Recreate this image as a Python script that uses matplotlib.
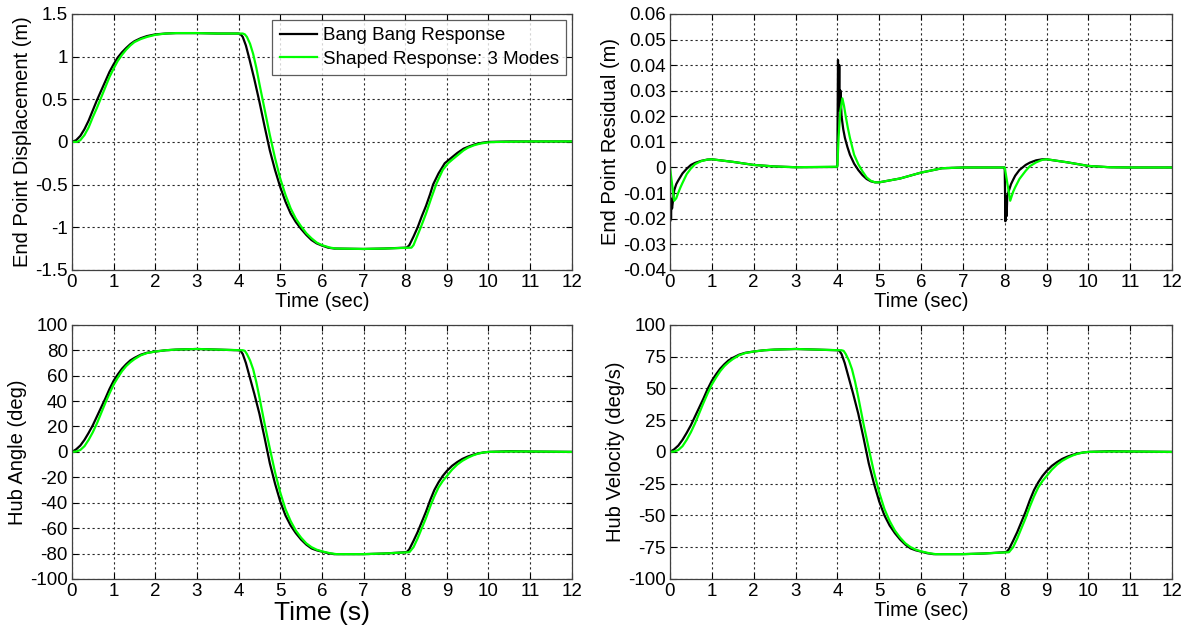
#! /usr/bin/env python3
# -*- coding: utf-8 -*-

## Respostas bang-bang x comando moldado (3 modos) - quatro graficos estilo MATLAB
import matplotlib
matplotlib.use('Agg')
import matplotlib.pyplot as plt

plt.rcParams['font.family'] = ['Liberation Sans', 'DejaVu Sans']
plt.rcParams['axes.unicode_minus'] = False

## ---- Dados ----
## deslocamento da ponta (m)
t_disp_bang = [0, 0.1, 0.2, 0.3, 0.4, 0.5, 0.6, 0.7, 0.8, 0.9, 1.0, 1.1, 1.2, 1.3, 1.4, 1.5, 1.65, 1.8,
               2.0, 2.25, 2.5, 3.0, 3.5, 4.0, 4.05, 4.1, 4.175, 4.25, 4.375, 4.5, 4.625, 4.75, 4.875,
               5.0, 5.125, 5.25, 5.375, 5.5, 5.625, 5.75, 5.875, 6.0, 6.15, 6.3, 7.0, 7.5, 8.0, 8.05,
               8.1, 8.2, 8.3, 8.4, 8.5, 8.6, 8.67, 8.8, 8.95, 9.1, 9.25, 9.4, 9.55, 9.7, 9.85, 10.0,
               10.5, 11.0, 12.0]
disp_bang = [0, 0.02, 0.07, 0.15, 0.25, 0.37, 0.49, 0.6, 0.71, 0.82, 0.91, 0.99, 1.05, 1.1, 1.145, 1.18, 1.215, 1.24,
             1.26, 1.27, 1.275, 1.275, 1.27, 1.27, 1.26, 1.23, 1.13, 0.99, 0.74, 0.47, 0.18, -0.1, -0.33,
             -0.53, -0.7, -0.84, -0.94, -1.02, -1.09, -1.15, -1.19, -1.215, -1.24, -1.25, -1.255, -1.25, -1.24, -1.235,
             -1.21, -1.11, -1.0, -0.87, -0.75, -0.61, -0.5, -0.37, -0.25, -0.19, -0.13, -0.08, -0.05, -0.025, -0.01, 0.0,
             0.005, 0.005, 0.005]
t_disp_shaped = [0, 0.12, 0.2, 0.3, 0.4, 0.5, 0.6, 0.7, 0.8, 0.9, 1.0, 1.1, 1.2, 1.3, 1.4, 1.5, 1.65, 1.8,
                 2.0, 2.25, 2.5, 3.0, 3.5, 4.1, 4.15, 4.2, 4.275, 4.35, 4.425, 4.5, 4.625, 4.75, 4.875,
                 5.0, 5.125, 5.25, 5.375, 5.5, 5.625, 5.75, 5.875, 6.0, 6.2, 6.35, 7.0, 7.5, 8.15, 8.2,
                 8.25, 8.375, 8.5, 8.625, 8.75, 8.9, 9.03, 9.15, 9.25, 9.4, 9.5, 9.65, 9.8, 10.0, 10.25,
                 11.0, 12.0]
disp_shaped = [0, 0.0, 0.02, 0.08, 0.17, 0.29, 0.4, 0.52, 0.64, 0.76, 0.86, 0.95, 1.02, 1.08, 1.13, 1.17, 1.205, 1.23,
               1.255, 1.27, 1.275, 1.275, 1.27, 1.27, 1.26, 1.23, 1.15, 1.03, 0.87, 0.68, 0.38, 0.08, -0.19,
               -0.43, -0.62, -0.78, -0.9, -0.99, -1.07, -1.13, -1.18, -1.21, -1.24, -1.25, -1.255, -1.25, -1.24, -1.21,
               -1.15, -1.0, -0.84, -0.66, -0.49, -0.33, -0.25, -0.2, -0.16, -0.1, -0.07, -0.04, -0.02, -0.005, 0.0,
               0.005, 0.005]

## residuo da ponta (m)
t_res_bang = [0, 0.005, 0.015, 0.025, 0.035, 0.05, 0.1, 0.15, 0.2, 0.3, 0.4, 0.5, 0.6, 0.75, 0.9, 1.0,
              1.5, 2.0, 2.5, 3.0, 3.99, 4.0, 4.015, 4.03, 4.045, 4.06, 4.075, 4.1, 4.14, 4.18, 4.24,
              4.3, 4.4, 4.5, 4.6, 4.7, 4.8, 4.9, 5.0, 5.5, 6.0, 6.5, 7.0, 7.99, 8.0, 8.015, 8.03,
              8.045, 8.06, 8.1, 8.15, 8.2, 8.25, 8.35, 8.5, 8.6, 8.75, 8.9, 9.0, 9.5, 10.0, 10.5,
              11.0, 12.0]
res_bang = [0, -0.021, -0.012, -0.02, -0.013, -0.016, -0.009, -0.0065, -0.005, -0.0023, -0.0005, 0.001, 0.0018, 0.0026, 0.0031, 0.0032,
            0.0022, 0.001, 0.0004, 0.0001, 0.0002, 0.001, 0.042, 0.024, 0.04, 0.022, 0.03, 0.02, 0.015, 0.0116, 0.008,
            0.005, 0.0015, -0.001, -0.003, -0.0045, -0.0054, -0.0058, -0.0058, -0.0043, -0.002, -0.0003, 0, 0, -0.001, -0.021, -0.013,
            -0.019, -0.011, -0.009, -0.0065, -0.0048, -0.0032, -0.001, 0.001, 0.0019, 0.0028, 0.0032, 0.0032, 0.002, 0.0006, 0.0001,
            0, 0]
t_res_shaped = [0, 0.1, 0.15, 0.2, 0.25, 0.3, 0.4, 0.5, 0.6, 0.75, 0.9, 1.0, 1.5, 2.0, 2.5, 3.0,
                4.0, 4.03, 4.07, 4.12, 4.16, 4.2, 4.25, 4.3, 4.4, 4.5, 4.6, 4.7, 4.8, 4.9, 5.0,
                5.5, 6.0, 6.5, 7.0, 8.0, 8.13, 8.2, 8.25, 8.35, 8.5, 8.6, 8.75, 8.9, 9.0, 9.5,
                10.0, 10.5, 11.0, 12.0]
res_shaped = [0, -0.013, -0.012, -0.0098, -0.0078, -0.006, -0.0026, -0.0004, 0.0013, 0.0025, 0.0031, 0.0032, 0.0022, 0.001, 0.0004, 0.0001,
              0.0003, 0.012, 0.022, 0.027, 0.024, 0.02, 0.0155, 0.0116, 0.005, 0.0013, -0.0015, -0.0039, -0.0052, -0.0058, -0.0058,
              -0.0043, -0.002, -0.0003, 0, 0, -0.013, -0.0095, -0.0077, -0.0045, -0.0013, 0.0005, 0.002, 0.003, 0.0032, 0.002,
              0.0006, 0.0001, 0, 0]

## angulo do cubo (deg)
t_hub_bang = [0, 0.1, 0.2, 0.3, 0.4, 0.5, 0.6, 0.7, 0.8, 0.9, 1.0, 1.1, 1.2, 1.3, 1.4, 1.5, 1.65, 1.8,
              2.0, 2.25, 2.5, 3.0, 3.5, 4.0, 4.05, 4.1, 4.175, 4.25, 4.375, 4.5, 4.625, 4.75, 4.875,
              5.0, 5.125, 5.25, 5.375, 5.5, 5.625, 5.75, 5.875, 6.0, 6.15, 6.3, 7.0, 7.5, 8.0, 8.05,
              8.1, 8.2, 8.3, 8.4, 8.5, 8.6, 8.7, 8.8, 8.9, 9.0, 9.125, 9.25, 9.375, 9.5, 9.625, 9.75,
              9.875, 10.0, 10.5, 11.0, 12.0]
ang_bang = [0, 2, 5, 9.5, 15, 21, 28, 35, 42, 49.5, 56, 61, 65.5, 69, 72, 74, 76.5, 78,
            79, 80, 80.5, 81, 80.5, 80, 79.5, 77, 70, 61, 46, 30, 11, -9, -25,
            -39, -50, -58, -64, -69, -73, -76, -77.5, -78.5, -79.8, -80.5, -80.5, -80, -79, -78.5,
            -76.6, -70, -63, -55, -47, -38, -30, -24, -19, -15, -11, -8, -5.5, -3.7, -2.3, -1.2,
            -0.5, 0, 0.5, 0.3, 0]
t_hub_shaped = [0, 0.1, 0.2, 0.3, 0.4, 0.5, 0.6, 0.7, 0.8, 0.9, 1.0, 1.1, 1.2, 1.3, 1.4, 1.5, 1.65, 1.8,
                2.0, 2.25, 2.5, 3.0, 3.5, 4.1, 4.15, 4.2, 4.275, 4.35, 4.425, 4.5, 4.625, 4.75, 4.875,
                5.0, 5.125, 5.25, 5.375, 5.5, 5.625, 5.75, 5.875, 6.0, 6.2, 6.35, 7.0, 7.5, 8.1, 8.2,
                8.3, 8.4, 8.5, 8.6, 8.7, 8.8, 8.9, 9.0, 9.125, 9.25, 9.375, 9.5, 9.625, 9.75, 9.875,
                10.0, 10.5, 11.0, 12.0]
ang_shaped = [0, 0.3, 1.5, 4.5, 9.5, 15.5, 22.5, 30.5, 38.5, 46, 53, 58.5, 63.5, 67.5, 70.5, 73, 76, 77.8,
              79, 80, 80.5, 81, 80.5, 80, 79.5, 77, 72, 65, 55, 43, 22, 2.6, -16,
              -32, -45, -54.5, -62, -67.5, -72, -75, -77, -78.3, -79.8, -80.5, -80.5, -80, -79, -75,
              -68, -60, -52, -43, -35, -28, -23, -19, -14, -10, -7, -4.7, -2.8, -1.4, -0.5,
              0, 0.3, 0.3, 0]

## velocidade do cubo (deg/s) - mesma forma do angulo
vel_bang = list(ang_bang)
vel_shaped = list(ang_shaped)

x_ticks = list(range(0, 13))
disp_ticks = [-1.5, -1, -0.5, 0, 0.5, 1, 1.5]
disp_labels = ['-1.5', '-1', '-0.5', '0', '0.5', '1', '1.5']
res_ticks = [-0.04, -0.03, -0.02, -0.01, 0, 0.01, 0.02, 0.03, 0.04, 0.05, 0.06]
res_labels = ['-0.04', '-0.03', '-0.02', '-0.01', '0', '0.01', '0.02', '0.03', '0.04', '0.05', '0.06']
ang_ticks = list(range(-100, 101, 20))
vel_ticks = list(range(-100, 101, 25))

fig = plt.figure(figsize=(11.9, 6.32), dpi=100)
ax1 = fig.add_axes([0.0605, 0.573, 0.420, 0.405])
ax2 = fig.add_axes([0.563, 0.573, 0.422, 0.405])
ax3 = fig.add_axes([0.0605, 0.084, 0.420, 0.402])
ax4 = fig.add_axes([0.563, 0.084, 0.422, 0.402])


def estilo(ax, yticks, ylabels, ylim, ylabel, xlabel, xsize=14.5):
    ax.set_xlim(0, 12)
    ax.set_ylim(*ylim)
    ax.set_xticks(x_ticks)
    ax.set_xticklabels([str(v) for v in x_ticks])
    ax.set_yticks(yticks)
    ax.set_yticklabels(ylabels)
    ax.tick_params(direction='in', top=True, right=True, length=4, width=0.8,
                   labelsize=13.5, pad=3)
    ax.grid(True, color='0.15', linestyle=(0, (2, 2.5)), linewidth=0.8)
    for s in ax.spines.values():
        s.set_linewidth(0.9)
        s.set_color('0.25')
    ax.set_ylabel(ylabel, fontsize=14.5, labelpad=2)
    ax.set_xlabel(xlabel, fontsize=xsize, labelpad=1)


ax1.plot(t_disp_bang, disp_bang, color='k', lw=1.6, label='Bang Bang Response')
ax1.plot(t_disp_shaped, disp_shaped, color='#00ff00', lw=1.6, label='Shaped Response: 3 Modes')
estilo(ax1, disp_ticks, disp_labels, (-1.5, 1.5), 'End Point Displacement (m)', 'Time (sec)')
leg = ax1.legend(loc='upper right', fontsize=13.5, frameon=True, fancybox=False,
                 borderaxespad=0.3, handlelength=2.0, handletextpad=0.3,
                 borderpad=0.4, labelspacing=0.35)
leg.get_frame().set_edgecolor('0.2')
leg.get_frame().set_linewidth(0.9)

ax2.plot(t_res_bang, res_bang, color='k', lw=1.6)
ax2.plot(t_res_shaped, res_shaped, color='#00ff00', lw=1.6)
estilo(ax2, res_ticks, res_labels, (-0.04, 0.06), 'End Point Residual (m)', 'Time (sec)')

ax3.plot(t_hub_bang, ang_bang, color='k', lw=1.6)
ax3.plot(t_hub_shaped, ang_shaped, color='#00ff00', lw=1.6)
estilo(ax3, ang_ticks, [str(v) for v in ang_ticks], (-100, 100), 'Hub Angle (deg)', 'Time (s)', xsize=19)

ax4.plot(t_hub_bang, vel_bang, color='k', lw=1.6)
ax4.plot(t_hub_shaped, vel_shaped, color='#00ff00', lw=1.6)
estilo(ax4, vel_ticks, [str(v) for v in vel_ticks], (-100, 100), 'Hub Velocity (deg/s)', 'Time (sec)')

fig.savefig('out.png', dpi=100)
